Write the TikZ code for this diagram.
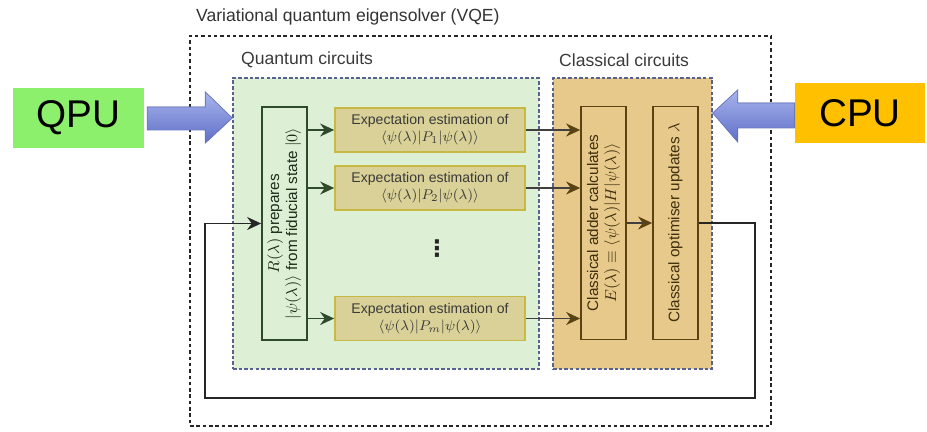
\documentclass[tikz,border=0pt]{standalone}
\usepackage{fontspec}
\setmainfont{Liberation Sans}
\newfontfamily\dejavufont{DejaVu Sans}
\usepackage{amsmath}
\usepackage{amssymb}
\usepackage{graphicx}
\usetikzlibrary{calc}
\usetikzlibrary{positioning}
\usetikzlibrary{arrows.meta}
\definecolor{quantumColor}{HTML}{DDF0D5}
\definecolor{classicColor}{HTML}{E7C98C}
\definecolor{regionEdge}{HTML}{58628F}
\definecolor{expColor}{HTML}{D9D197}
\definecolor{expEdge}{HTML}{C8B945}
\definecolor{prepEdge}{HTML}{2E4A2A}
\definecolor{brownEdge}{HTML}{5A4312}
\definecolor{labelColor}{HTML}{3A3A3A}
\definecolor{qpuColor}{HTML}{8CF06C}
\definecolor{cpuColor}{HTML}{FFC000}
\definecolor{arrowTop}{HTML}{A8B4EC}
\definecolor{arrowBottom}{HTML}{5F6FC8}
\definecolor{arrowEdge}{HTML}{6A78C0}

\begin{document}
\begin{tikzpicture}[
			x=0.02cm, y=-0.02cm,
			region/.style={draw=regionEdge, dash pattern=on 2pt off 1.2pt, line width=0.8pt, inner sep=0pt},
			lbl/.style={anchor=west, font=\fontsize{10}{12}\selectfont, text=labelColor},
			expbox/.style={draw=expEdge, fill=expColor, line width=1pt, minimum width=3.8cm, minimum height=0.88cm, inner sep=0pt, align=center, text=labelColor, font=\fontsize{8}{9.6}\selectfont},
			vbox/.style={line width=1pt, minimum width=0.9cm, minimum height=4.66cm, inner sep=0pt, font=\fontsize{8.7}{10.2}\selectfont},
			unit/.style={minimum width=2.62cm, minimum height=1.2cm, inner sep=0pt, font=\fontsize{22}{24}\selectfont},
			bigarrow/.style={draw=arrowEdge, line width=0.4pt, top color=arrowTop, bottom color=arrowBottom},
			garrow/.style={-{Stealth[length=2.8mm, width=2.6mm]}, draw=prepEdge, line width=1pt},
			barrow/.style={-{Stealth[length=2.8mm, width=2.6mm, color=brownEdge]}, draw=black!75, line width=1pt},
			]
			\useasboundingbox (0,0) rectangle (927,432);
			\node[lbl, text=black!80] (title) at (190,17) {Variational quantum eigensolver (VQE)};
			\node[draw=black!85, dash pattern=on 2pt off 1.6pt, line width=0.8pt, minimum width=11.62cm, minimum height=7.8cm] (vqe) at (480.5,231) {};
			\node[lbl] (qlbl) at (235,60) {Quantum circuits};
			\node[lbl] (clbl) at (553,60) {Classical circuits};
			\node[region, fill=quantumColor, minimum width=6.12cm, minimum height=5.82cm] (qc) at (386,223.5) {};
			\node[region, fill=classicColor, minimum width=3.18cm, minimum height=5.82cm] (cc) at (632.5,223.5) {};
			\node[vbox, draw=prepEdge, fill=quantumColor, text=prepEdge!60!black] (prep) at (284.5,223.5) {\rotatebox{90}{\begin{tabular}{@{}c@{}}$R(\lambda)$ prepares\\ $|\psi(\lambda)\rangle$ from fiducial state $|0\rangle$\end{tabular}}};
			\foreach \n/\y/\k in {exp1/130/1, exp2/188/2, expm/318.5/m}
				\node[expbox] (\n) at (430,\y) {Expectation estimation of\\ $\langle\psi(\lambda)|P_{\k}|\psi(\lambda)\rangle$};
			\node[font=\dejavufont\bfseries\fontsize{13}{13}\selectfont, text=black!85, inner sep=0pt] (dots) at (437,249) {⋮};
			\node[vbox, draw=brownEdge, text=brownEdge!70!black] (adder) at (603.5,223) {\rotatebox{90}{\begin{tabular}{@{}c@{}}Classical adder calculates\\ $E(\lambda)\equiv\langle\psi(\lambda)|H|\psi(\lambda)\rangle$\end{tabular}}};
			\node[vbox, draw=brownEdge, text=brownEdge!70!black] (optim) at (675.5,223) {\rotatebox{90}{Classical optimiser updates $\lambda$}};
			\foreach \n in {exp1,exp2,expm} {
				\draw[garrow] (prep.east |- \n) -- (\n.west);
				\draw[barrow] (\n.east) -- (\n.east -| adder.west);
			}
			\draw[barrow] (adder.east) -- (optim.west);
			\coordinate (fbr) at (755,398);
			\coordinate (fbl) at (205,398);
			\draw[-{Stealth[length=2.8mm, width=2.6mm]}, draw=black!85, line width=1pt] (optim.east) -- (optim.east -| fbr) -- (fbr) -- (fbl) -- (fbl |- prep) -- (prep.west);
			\node[unit, fill=qpuColor] (qpu) at (78.5,118) {QPU};
			\node[unit, fill=cpuColor, minimum width=2.6cm] (cpu) at (860,113) {CPU};
			\fill[bigarrow] ($(qpu.east)+(3,-11)$) -- ++(58,0) -- ++(0,-15) -- (qpu -| qc.west) -- ($(qpu.east)+(61,25)$) -- ++(0,-13) -- ($(qpu.east)+(3,12)$) -- cycle;
			\fill[bigarrow] ($(cpu.west)+(0,-10)$) -- ++(-57,0) -- ++(0,-13) -- (cpu -| cc.east) -- ($(cpu.west)+(-57,29)$) -- ++(0,-14) -- ($(cpu.west)+(0,15)$) -- cycle;
		\end{tikzpicture}
\end{document}
